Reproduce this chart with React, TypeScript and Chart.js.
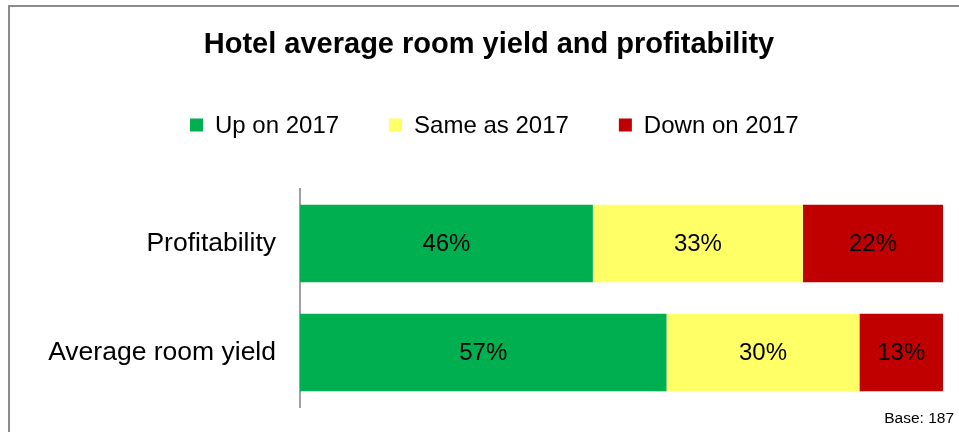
import React, { useEffect, useRef } from "react";
import { Chart, registerables } from "chart.js";

Chart.register(...registerables);

const categories = ["Profitability", "Average room yield"];
const seriesNames = ["Up on 2017", "Same as 2017", "Down on 2017"];
const upValues = [46, 57];
const sameValues = [33, 30];
const downValues = [22, 13];
const seriesColors = ["#00B050", "#FFFF66", "#C00000"];
const titleText = "Hotel average room yield and profitability";
const baseText = "Base: 187";

const FONT = "Arial, 'Liberation Sans', sans-serif";

const raw = [upValues, sameValues, downValues];
const totals = categories.map((_, i) => raw.reduce((s, arr) => s + arr[i], 0));

export default function App() {
  const ref = useRef<HTMLCanvasElement | null>(null);

  useEffect(() => {
    if (!ref.current) return;
    const overlay = {
      id: "overlay",
      afterDraw(chart: any) {
        const ctx = chart.ctx;
        ctx.save();
        // title
        ctx.fillStyle = "#000";
        ctx.font = `bold 29px ${FONT}`;
        ctx.textAlign = "center";
        ctx.textBaseline = "middle";
        ctx.fillText(titleText, 489, 45);
        // legend
        ctx.font = `24px ${FONT}`;
        ctx.textAlign = "left";
        let x = 190;
        const ly = 125;
        chart.data.datasets.forEach((ds: any) => {
          ctx.fillStyle = ds.backgroundColor;
          ctx.fillRect(x, ly - 6.5, 13, 13);
          ctx.fillStyle = "#000";
          ctx.fillText(ds.label, x + 25, ly + 1);
          x += 25 + ctx.measureText(ds.label).width + 50;
        });
        // data labels
        ctx.font = `24px ${FONT}`;
        ctx.textAlign = "center";
        chart.data.datasets.forEach((ds: any, di: number) => {
          const meta = chart.getDatasetMeta(di);
          meta.data.forEach((bar: any, i: number) => {
            const cx = (bar.x + bar.base) / 2;
            ctx.fillStyle = "#000";
            ctx.fillText(`${raw[di][i]}%`, cx, bar.y + 1);
          });
        });
        // base
        ctx.font = `15.5px ${FONT}`;
        ctx.textAlign = "right";
        ctx.textBaseline = "alphabetic";
        ctx.fillText(baseText, 954, 423);
        ctx.restore();
      },
    };

    const chart = new Chart(ref.current, {
      type: "bar",
      data: {
        labels: categories,
        datasets: seriesNames.map((name, di) => ({
          label: name,
          data: raw[di].map((v, i) => (v / totals[i]) * 100),
          backgroundColor: seriesColors[di],
          borderWidth: 0,
          barPercentage: 0.71,
          categoryPercentage: 1,
        })),
      },
      options: {
        indexAxis: "y",
        animation: false,
        responsive: false,
        maintainAspectRatio: false,
        layout: { padding: { left: 10, right: 16, top: 189, bottom: 25 } },
        plugins: {
          legend: { display: false },
          title: { display: false },
          tooltip: { enabled: false },
        },
        scales: {
          x: { stacked: true, min: 0, max: 100, display: false },
          y: {
            stacked: true,
            grid: { display: false, drawTicks: false },
            border: { display: true, color: "#A0A0A0", width: 2 },
            ticks: {
              color: "#000",
              padding: 24,
              font: { family: FONT, size: 26.5 },
            },
            afterFit(scale: any) {
              scale.width = 290;
              scale.paddingTop = 0;
              scale.paddingBottom = 0;
            },
          },
        },
      },
      plugins: [overlay],
    });
    return () => chart.destroy();
  }, []);

  return (
    <div style={{ position: "absolute", left: 0, top: 0, width: 959, height: 432, background: "#fff", overflow: "hidden" }}>
      <div
        style={{
          position: "absolute",
          left: 8,
          top: 5,
          width: 1000,
          height: 1000,
          borderLeft: "2px solid #8C8C8C",
          borderTop: "2px solid #8C8C8C",
        }}
      />
      <canvas ref={ref} width={959} height={432} style={{ position: "absolute", left: 0, top: 0, width: 959, height: 432 }} />
    </div>
  );
}
